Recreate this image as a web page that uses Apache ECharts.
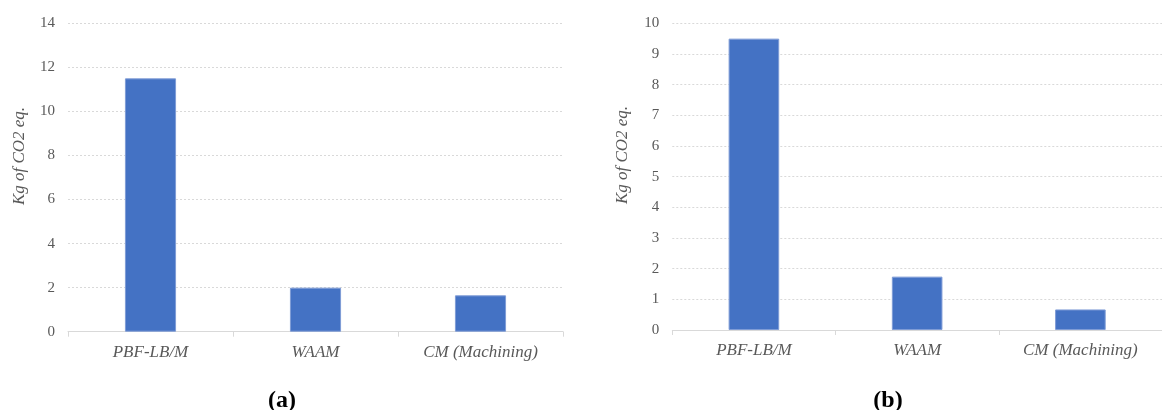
<!DOCTYPE html>
<html>
<head>
<meta charset="utf-8">
<script src="https://cdn.jsdelivr.net/npm/echarts@6/dist/echarts.min.js"></script>
<style>html,body{margin:0;padding:0;background:#fff}#c{width:1162px;height:410px}</style>
</head>
<body>
<div id="c"></div>
<script>
const categories = ['PBF-LB/M', 'WAAM', 'CM (Machining)'];
const valuesA = [11.5, 2.0, 1.65];
const valuesB = [9.5, 1.74, 0.67];
const axisTitle = 'Kg of CO2 eq.';
const panelLabels = ['(a)', '(b)'];

const FONT = '"Liberation Serif", "Times New Roman", serif';
const GRAY = '#595959';
const LINE = '#d9d9d9';

function xAx(gi) {
  return {
    type: 'category', gridIndex: gi, data: categories, boundaryGap: true,
    axisLine: {lineStyle: {color: LINE, width: 1}},
    axisTick: {show: true, length: 5, lineStyle: {color: LINE}},
    axisLabel: {fontFamily: FONT, fontStyle: 'italic', fontSize: 17, color: GRAY, margin: 12}
  };
}
function yAx(gi, max, interval) {
  return {
    type: 'value', gridIndex: gi, min: 0, max: max, interval: interval,
    axisLine: {show: false}, axisTick: {show: false},
    axisLabel: {fontFamily: FONT, fontSize: 15, color: GRAY, margin: 13},
    splitLine: {lineStyle: {color: LINE, type: [2, 2], width: 1}}
  };
}
const barStyle = {color: '#4472C4', borderColor: '#7f9cd6', borderWidth: 1};

const chart = echarts.init(document.getElementById('c'), null, {renderer: 'canvas'});
chart.setOption({
  animation: false,
  grid: [
    {left: 68, top: 23.3, right: 599, bottom: 78.3},
    {left: 672.3, top: 23.3, right: -10.6, bottom: 80}
  ],
  xAxis: [xAx(0), xAx(1)],
  yAxis: [yAx(0, 14, 2), yAx(1, 10, 1)],
  series: [
    {type: 'bar', xAxisIndex: 0, yAxisIndex: 0, data: valuesA, barWidth: '31%', itemStyle: barStyle},
    {type: 'bar', xAxisIndex: 1, yAxisIndex: 1, data: valuesB, barWidth: '31%', itemStyle: barStyle}
  ],
  graphic: [
    {type: 'text', x: 20, y: 156, rotation: Math.PI / 2,
     style: {text: axisTitle, font: 'italic 17px ' + FONT, fill: GRAY, textAlign: 'center', textVerticalAlign: 'middle'}},
    {type: 'text', x: 623, y: 155, rotation: Math.PI / 2,
     style: {text: axisTitle, font: 'italic 17px ' + FONT, fill: GRAY, textAlign: 'center', textVerticalAlign: 'middle'}},
    {type: 'text', x: 282, y: 401,
     style: {text: panelLabels[0], font: 'bold 24px ' + FONT, fill: '#000', textAlign: 'center', textVerticalAlign: 'middle'}},
    {type: 'text', x: 888, y: 401,
     style: {text: panelLabels[1], font: 'bold 24px ' + FONT, fill: '#000', textAlign: 'center', textVerticalAlign: 'middle'}}
  ]
});
</script>
</body>
</html>
